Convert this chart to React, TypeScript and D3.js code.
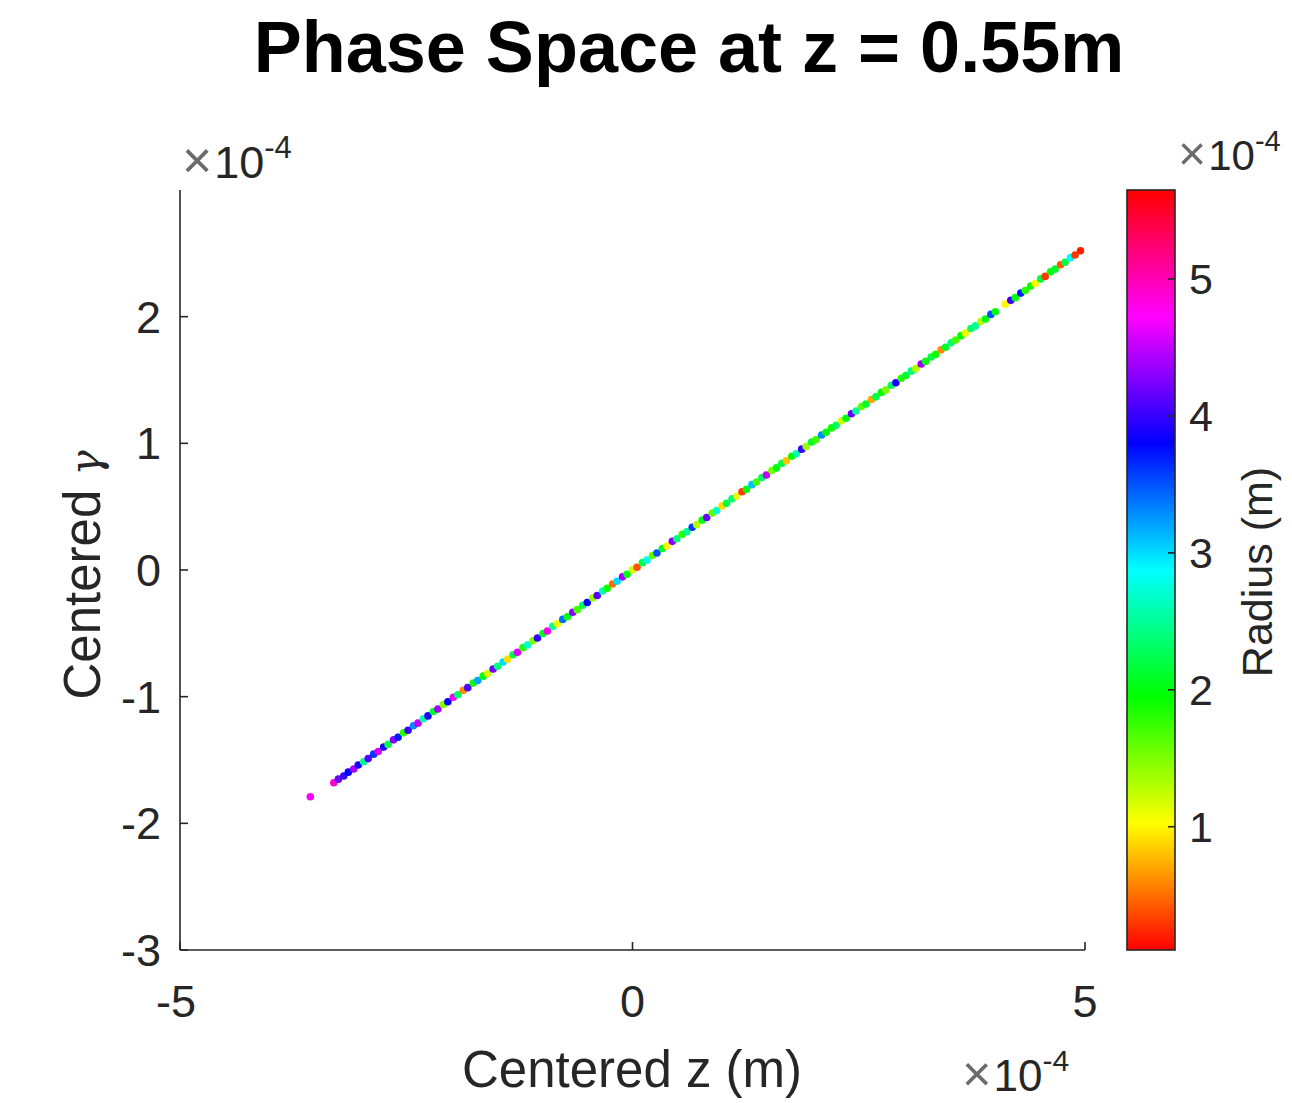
import React from "react";
import * as d3 from "d3";

// Particle samples: longitudinal offset z (×1e-4 m), centered gamma (×1e-4), radius (×1e-4 m)
const zValues = [
  -3.56,
  -3.30, -3.25, -3.19, -3.14, -3.08, -3.03, -2.97, -2.92, -2.86, -2.81,
  -2.75, -2.70, -2.64, -2.59, -2.53, -2.48, -2.42, -2.37, -2.31, -2.26,
  -2.20, -2.15, -2.09, -2.04, -1.98, -1.93, -1.87, -1.82, -1.76, -1.71,
  -1.65, -1.60, -1.54, -1.49, -1.43, -1.38, -1.32, -1.27, -1.21, -1.16,
  -1.10, -1.05, -0.99, -0.94, -0.88, -0.83, -0.77, -0.72, -0.66, -0.61,
  -0.55, -0.50, -0.44, -0.39, -0.33, -0.28, -0.22, -0.17, -0.11, -0.06,
  0.00, 0.05, 0.11, 0.16, 0.22, 0.27, 0.33, 0.38, 0.44, 0.49,
  0.55, 0.60, 0.66, 0.71, 0.77, 0.82, 0.88, 0.93, 0.99, 1.04,
  1.10, 1.15, 1.21, 1.26, 1.32, 1.37, 1.43, 1.48, 1.54, 1.59,
  1.65, 1.70, 1.76, 1.81, 1.87, 1.92, 1.98, 2.03, 2.09, 2.14,
  2.20, 2.25, 2.31, 2.36, 2.42, 2.47, 2.53, 2.58, 2.64, 2.69,
  2.75, 2.80, 2.86, 2.91, 2.97, 3.02, 3.08, 3.13, 3.19, 3.24,
  3.30, 3.35, 3.41, 3.46, 3.52, 3.57, 3.63, 3.68, 3.74, 3.79,
  3.85, 3.90, 3.96, 4.01, 4.12, 4.18, 4.23, 4.29, 4.34,
  4.40, 4.45, 4.51, 4.56, 4.62, 4.67, 4.73, 4.78, 4.84, 4.89, 4.95,
];

const gammaValues = [
  -1.790,
  -1.680, -1.651, -1.626, -1.596, -1.571, -1.540, -1.514, -1.489, -1.454, -1.433,
  -1.398, -1.377, -1.341, -1.320, -1.285, -1.265, -1.230, -1.209, -1.174, -1.152,
  -1.117, -1.097, -1.062, -1.040, -1.005, -0.985, -0.950, -0.929, -0.893, -0.872,
  -0.838, -0.817, -0.781, -0.760, -0.726, -0.705, -0.669, -0.649, -0.613, -0.592,
  -0.558, -0.537, -0.501, -0.481, -0.445, -0.425, -0.390, -0.369, -0.333, -0.313,
  -0.278, -0.257, -0.221, -0.201, -0.166, -0.145, -0.110, -0.089, -0.054, -0.033,
  0.002, 0.022, 0.058, 0.078, 0.114, 0.134, 0.170, 0.190, 0.226, 0.247,
  0.282, 0.302, 0.338, 0.358, 0.394, 0.415, 0.450, 0.470, 0.506, 0.527,
  0.562, 0.582, 0.618, 0.638, 0.674, 0.695, 0.730, 0.750, 0.786, 0.806,
  0.842, 0.862, 0.898, 0.918, 0.954, 0.975, 1.010, 1.030, 1.066, 1.087,
  1.122, 1.142, 1.178, 1.198, 1.234, 1.255, 1.290, 1.310, 1.346, 1.367,
  1.402, 1.422, 1.458, 1.478, 1.514, 1.535, 1.570, 1.590, 1.626, 1.647,
  1.682, 1.702, 1.738, 1.758, 1.794, 1.815, 1.850, 1.870, 1.906, 1.927,
  1.962, 1.982, 2.018, 2.039, 2.099, 2.130, 2.150, 2.186, 2.207,
  2.242, 2.262, 2.298, 2.318, 2.354, 2.375, 2.410, 2.430, 2.466, 2.487, 2.520,
];

const radiusValues = [
  4.7,
  4.9, 4.2, 4.0, 3.8, 4.4, 3.9, 2.5, 4.1, 3.6, 4.6,
  3.9, 2.2, 4.3, 3.7, 1.8, 4.0, 3.3, 4.5, 2.6, 3.9,
  2.1, 4.4, 1.5, 3.8, 4.7, 2.3, 0.6, 4.1, 1.9, 3.2,
  2.0, 1.2, 4.2, 2.4, 3.0, 0.9, 2.2, 4.6, 1.8, 2.7,
  1.5, 4.0, 2.1, 4.8, 2.5, 1.1, 3.4, 2.0, 4.3, 1.7,
  2.3, 3.8, 1.4, 4.1, 2.6, 1.9, 0.5, 3.0, 4.4, 2.0,
  1.2, 0.4, 2.2, 2.8, 1.6, 3.5, 2.1, 1.0, 4.3, 2.4,
  1.8, 2.5, 3.6, 1.3, 2.0, 4.2, 1.6, 2.7, 0.9, 2.2,
  2.4, 1.1, 0.3, 2.0, 3.1, 1.7, 2.3, 4.5, 1.5, 2.0,
  2.2, 0.8, 1.9, 2.6, 4.0, 1.4, 2.1, 1.7, 3.3, 2.0,
  1.9, 2.3, 1.2, 2.0, 4.2, 2.5, 1.6, 2.1, 0.7, 2.2,
  2.0, 1.5, 2.3, 3.9, 1.8, 2.1, 2.4, 1.3, 4.4, 2.0,
  2.2, 1.9, 0.6, 2.1, 2.4, 1.7, 2.0, 1.1, 2.3, 2.5,
  1.3, 2.0, 3.5, 2.0, 1.0, 4.0, 2.0, 3.7, 1.8,
  1.9, 1.0, 2.2, 0.3, 2.0, 2.1, 0.4, 2.2, 2.9, 0.3, 0.2,
];

const xTicks = [-5, 0, 5];
const yTicks = [-3, -2, -1, 0, 1, 2];
const cbarTicks = [1, 2, 3, 4, 5];
const cbarDomain = [0.1, 5.65];

const FONT = "'Liberation Sans', Arial, Helvetica, sans-serif";
const INK = "#262626";

function Exponent({ x, y, size, supSize }: { x: number; y: number; size: number; supSize: number }) {
  return (
    <text x={x} y={y} fontSize={size} fill={INK}>
      <tspan fill="#6b6b6b" fontSize={size * 1.15} fontWeight={300}>×</tspan>
      <tspan dx={2}>10</tspan>
      <tspan fontSize={supSize} dy={-size * 0.45}>-4</tspan>
    </text>
  );
}

export default function App() {
  const W = 1292;
  const H = 1103;
  const left = 180, right = 1085, top = 190, bottom = 950;
  const x = d3.scaleLinear().domain([-5, 5]).range([left, right]);
  const y = d3.scaleLinear().domain([-3, 3]).range([bottom, top]);

  const cbX = 1127, cbW = 48;
  const cbY = d3.scaleLinear().domain(cbarDomain).range([bottom, top]);
  const hsv = (t: number) => d3.hsl(t * 360, 1, 0.5).formatHex();
  const color = d3.scaleSequential(hsv).domain(cbarDomain);

  const stops = d3.range(0, 1.0001, 1 / 24);

  return (
    <svg width={W} height={H} style={{ display: "block", position: "absolute", left: 0, top: 0 }} fontFamily={FONT}>
      <defs>
        <linearGradient id="hsvbar" x1="0" y1="1" x2="0" y2="0">
          {stops.map((s, i) => (
            <stop key={i} offset={s} stopColor={hsv(s)} />
          ))}
        </linearGradient>
        <filter id="soft" x="-5%" y="-5%" width="110%" height="110%">
          <feGaussianBlur stdDeviation="0.5" />
        </filter>
      </defs>
      <rect width={W} height={H} fill="#fff" />

      <text x={689} y={72} textAnchor="middle" fontSize={72} fontWeight="bold" fill="#000">
        Phase Space at z = 0.55m
      </text>

      {/* particles */}
      <g filter="url(#soft)">
        {zValues.map((z, i) => (
          <circle key={i} cx={x(z)} cy={y(gammaValues[i])} r={3.8} fill={color(radiusValues[i])} />
        ))}
      </g>

      {/* axes */}
      <g stroke={INK} strokeWidth={1.6} fill="none">
        <line x1={left} y1={top} x2={left} y2={bottom} />
        <line x1={left} y1={bottom} x2={right} y2={bottom} />
        {yTicks.map((t) => (
          <line key={t} x1={left} x2={left + 8} y1={y(t)} y2={y(t)} />
        ))}
        {xTicks.map((t) => (
          <line key={t} x1={x(t)} x2={x(t)} y1={bottom} y2={bottom - 8} />
        ))}
      </g>
      <g fill={INK} fontSize={45}>
        {yTicks.map((t) => (
          <text key={t} x={161} y={y(t) + 16} textAnchor="end">
            {t}
          </text>
        ))}
        {xTicks.map((t) => (
          <text key={t} x={x(t) - (t < 0 ? 4 : 0)} y={1017} textAnchor="middle">
            {t}
          </text>
        ))}
      </g>
      <Exponent x={182} y={178} size={45} supSize={31} />
      <Exponent x={962} y={1091} size={44} supSize={30} />

      <text x={632} y={1087} textAnchor="middle" fontSize={51} fill={INK}>
        Centered z (m)
      </text>
      <text transform="translate(100,575) rotate(-90)" textAnchor="middle" fontSize={51} fill={INK}>
        Centered{" "}
        <tspan fontFamily="'DejaVu Serif', serif" fontStyle="italic" fontSize={42} fontWeight={300}>
          γ
        </tspan>
      </text>

      {/* colorbar */}
      <rect x={cbX} y={top} width={cbW} height={bottom - top} fill="url(#hsvbar)" stroke={INK} strokeWidth={1.6} />
      <g stroke={INK} strokeWidth={1.6}>
        {cbarTicks.map((t) => (
          <line key={t} x1={cbX + cbW} x2={cbX + cbW - 7} y1={cbY(t)} y2={cbY(t)} />
        ))}
      </g>
      <g fill={INK} fontSize={43}>
        {cbarTicks.map((t) => (
          <text key={t} x={1189} y={cbY(t) + 15}>
            {t}
          </text>
        ))}
      </g>
      <Exponent x={1178} y={170} size={42} supSize={29} />
      <text transform="translate(1272,572) rotate(-90)" textAnchor="middle" fontSize={43} fill={INK}>
        Radius (m)
      </text>
    </svg>
  );
}
